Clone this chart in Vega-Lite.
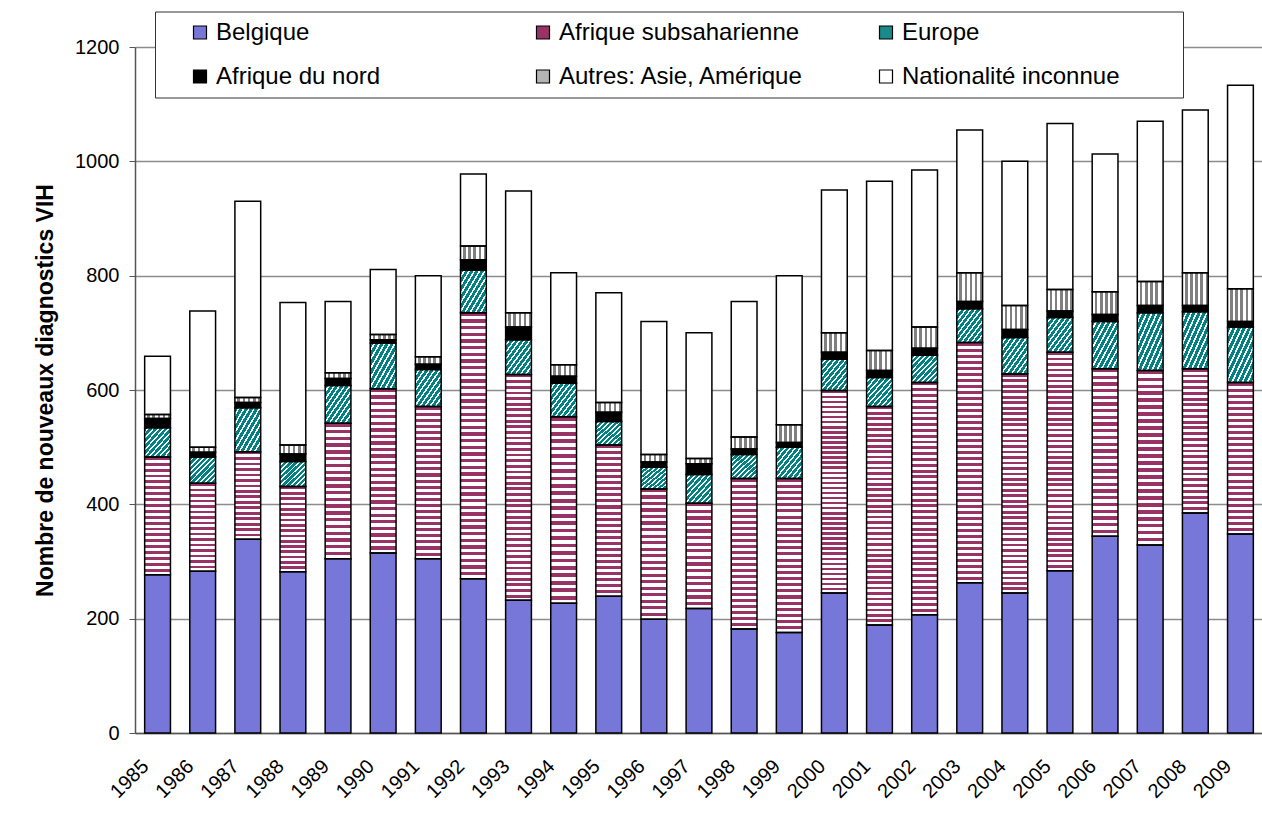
{
  "$schema": "https://vega.github.io/schema/vega-lite/v6.json",
  "autosize": "none",
  "width": 1128,
  "height": 686,
  "padding": {"left": 135, "top": 47, "right": 0, "bottom": 96},
  "background": "#ffffff",
  "config": {
    "view": {"stroke": null},
    "font": "Liberation Sans",
    "axis": {"labelFont": "Liberation Sans", "titleFont": "Liberation Sans", "labelColor": "#000", "titleColor": "#000"}
  },
  "data": {"values": [
    {"annee": "1985", "origine": "Belgique", "n": 277}, {"annee": "1985", "origine": "Afrique subsaharienne", "n": 206}, {"annee": "1985", "origine": "Europe", "n": 51}, {"annee": "1985", "origine": "Afrique du nord", "n": 16}, {"annee": "1985", "origine": "Autres: Asie, Amérique", "n": 7}, {"annee": "1985", "origine": "Nationalité inconnue", "n": 102},
    {"annee": "1986", "origine": "Belgique", "n": 283}, {"annee": "1986", "origine": "Afrique subsaharienne", "n": 154}, {"annee": "1986", "origine": "Europe", "n": 46}, {"annee": "1986", "origine": "Afrique du nord", "n": 8}, {"annee": "1986", "origine": "Autres: Asie, Amérique", "n": 9}, {"annee": "1986", "origine": "Nationalité inconnue", "n": 238},
    {"annee": "1987", "origine": "Belgique", "n": 339}, {"annee": "1987", "origine": "Afrique subsaharienne", "n": 153}, {"annee": "1987", "origine": "Europe", "n": 77}, {"annee": "1987", "origine": "Afrique du nord", "n": 9}, {"annee": "1987", "origine": "Autres: Asie, Amérique", "n": 9}, {"annee": "1987", "origine": "Nationalité inconnue", "n": 343},
    {"annee": "1988", "origine": "Belgique", "n": 282}, {"annee": "1988", "origine": "Afrique subsaharienne", "n": 149}, {"annee": "1988", "origine": "Europe", "n": 44}, {"annee": "1988", "origine": "Afrique du nord", "n": 13}, {"annee": "1988", "origine": "Autres: Asie, Amérique", "n": 16}, {"annee": "1988", "origine": "Nationalité inconnue", "n": 249},
    {"annee": "1989", "origine": "Belgique", "n": 305}, {"annee": "1989", "origine": "Afrique subsaharienne", "n": 237}, {"annee": "1989", "origine": "Europe", "n": 66}, {"annee": "1989", "origine": "Afrique du nord", "n": 12}, {"annee": "1989", "origine": "Autres: Asie, Amérique", "n": 10}, {"annee": "1989", "origine": "Nationalité inconnue", "n": 125},
    {"annee": "1990", "origine": "Belgique", "n": 315}, {"annee": "1990", "origine": "Afrique subsaharienne", "n": 287}, {"annee": "1990", "origine": "Europe", "n": 80}, {"annee": "1990", "origine": "Afrique du nord", "n": 6}, {"annee": "1990", "origine": "Autres: Asie, Amérique", "n": 9}, {"annee": "1990", "origine": "Nationalité inconnue", "n": 114},
    {"annee": "1991", "origine": "Belgique", "n": 305}, {"annee": "1991", "origine": "Afrique subsaharienne", "n": 266}, {"annee": "1991", "origine": "Europe", "n": 65}, {"annee": "1991", "origine": "Afrique du nord", "n": 9}, {"annee": "1991", "origine": "Autres: Asie, Amérique", "n": 13}, {"annee": "1991", "origine": "Nationalité inconnue", "n": 142},
    {"annee": "1992", "origine": "Belgique", "n": 270}, {"annee": "1992", "origine": "Afrique subsaharienne", "n": 465}, {"annee": "1992", "origine": "Europe", "n": 75}, {"annee": "1992", "origine": "Afrique du nord", "n": 18}, {"annee": "1992", "origine": "Autres: Asie, Amérique", "n": 24}, {"annee": "1992", "origine": "Nationalité inconnue", "n": 126},
    {"annee": "1993", "origine": "Belgique", "n": 232}, {"annee": "1993", "origine": "Afrique subsaharienne", "n": 395}, {"annee": "1993", "origine": "Europe", "n": 61}, {"annee": "1993", "origine": "Afrique du nord", "n": 22}, {"annee": "1993", "origine": "Autres: Asie, Amérique", "n": 25}, {"annee": "1993", "origine": "Nationalité inconnue", "n": 213},
    {"annee": "1994", "origine": "Belgique", "n": 227}, {"annee": "1994", "origine": "Afrique subsaharienne", "n": 326}, {"annee": "1994", "origine": "Europe", "n": 59}, {"annee": "1994", "origine": "Afrique du nord", "n": 12}, {"annee": "1994", "origine": "Autres: Asie, Amérique", "n": 20}, {"annee": "1994", "origine": "Nationalité inconnue", "n": 161},
    {"annee": "1995", "origine": "Belgique", "n": 239}, {"annee": "1995", "origine": "Afrique subsaharienne", "n": 265}, {"annee": "1995", "origine": "Europe", "n": 41}, {"annee": "1995", "origine": "Afrique du nord", "n": 16}, {"annee": "1995", "origine": "Autres: Asie, Amérique", "n": 17}, {"annee": "1995", "origine": "Nationalité inconnue", "n": 192},
    {"annee": "1996", "origine": "Belgique", "n": 199}, {"annee": "1996", "origine": "Afrique subsaharienne", "n": 228}, {"annee": "1996", "origine": "Europe", "n": 38}, {"annee": "1996", "origine": "Afrique du nord", "n": 9}, {"annee": "1996", "origine": "Autres: Asie, Amérique", "n": 13}, {"annee": "1996", "origine": "Nationalité inconnue", "n": 233},
    {"annee": "1997", "origine": "Belgique", "n": 218}, {"annee": "1997", "origine": "Afrique subsaharienne", "n": 184}, {"annee": "1997", "origine": "Europe", "n": 50}, {"annee": "1997", "origine": "Afrique du nord", "n": 19}, {"annee": "1997", "origine": "Autres: Asie, Amérique", "n": 9}, {"annee": "1997", "origine": "Nationalité inconnue", "n": 220},
    {"annee": "1998", "origine": "Belgique", "n": 182}, {"annee": "1998", "origine": "Afrique subsaharienne", "n": 263}, {"annee": "1998", "origine": "Europe", "n": 42}, {"annee": "1998", "origine": "Afrique du nord", "n": 10}, {"annee": "1998", "origine": "Autres: Asie, Amérique", "n": 21}, {"annee": "1998", "origine": "Nationalité inconnue", "n": 237},
    {"annee": "1999", "origine": "Belgique", "n": 176}, {"annee": "1999", "origine": "Afrique subsaharienne", "n": 269}, {"annee": "1999", "origine": "Europe", "n": 55}, {"annee": "1999", "origine": "Afrique du nord", "n": 8}, {"annee": "1999", "origine": "Autres: Asie, Amérique", "n": 31}, {"annee": "1999", "origine": "Nationalité inconnue", "n": 261},
    {"annee": "2000", "origine": "Belgique", "n": 245}, {"annee": "2000", "origine": "Afrique subsaharienne", "n": 354}, {"annee": "2000", "origine": "Europe", "n": 55}, {"annee": "2000", "origine": "Afrique du nord", "n": 12}, {"annee": "2000", "origine": "Autres: Asie, Amérique", "n": 34}, {"annee": "2000", "origine": "Nationalité inconnue", "n": 250},
    {"annee": "2001", "origine": "Belgique", "n": 189}, {"annee": "2001", "origine": "Afrique subsaharienne", "n": 382}, {"annee": "2001", "origine": "Europe", "n": 51}, {"annee": "2001", "origine": "Afrique du nord", "n": 12}, {"annee": "2001", "origine": "Autres: Asie, Amérique", "n": 35}, {"annee": "2001", "origine": "Nationalité inconnue", "n": 296},
    {"annee": "2002", "origine": "Belgique", "n": 207}, {"annee": "2002", "origine": "Afrique subsaharienne", "n": 406}, {"annee": "2002", "origine": "Europe", "n": 48}, {"annee": "2002", "origine": "Afrique du nord", "n": 12}, {"annee": "2002", "origine": "Autres: Asie, Amérique", "n": 37}, {"annee": "2002", "origine": "Nationalité inconnue", "n": 275},
    {"annee": "2003", "origine": "Belgique", "n": 263}, {"annee": "2003", "origine": "Afrique subsaharienne", "n": 420}, {"annee": "2003", "origine": "Europe", "n": 59}, {"annee": "2003", "origine": "Afrique du nord", "n": 13}, {"annee": "2003", "origine": "Autres: Asie, Amérique", "n": 50}, {"annee": "2003", "origine": "Nationalité inconnue", "n": 250},
    {"annee": "2004", "origine": "Belgique", "n": 245}, {"annee": "2004", "origine": "Afrique subsaharienne", "n": 383}, {"annee": "2004", "origine": "Europe", "n": 64}, {"annee": "2004", "origine": "Afrique du nord", "n": 14}, {"annee": "2004", "origine": "Autres: Asie, Amérique", "n": 42}, {"annee": "2004", "origine": "Nationalité inconnue", "n": 252},
    {"annee": "2005", "origine": "Belgique", "n": 284}, {"annee": "2005", "origine": "Afrique subsaharienne", "n": 382}, {"annee": "2005", "origine": "Europe", "n": 61}, {"annee": "2005", "origine": "Afrique du nord", "n": 11}, {"annee": "2005", "origine": "Autres: Asie, Amérique", "n": 38}, {"annee": "2005", "origine": "Nationalité inconnue", "n": 290},
    {"annee": "2006", "origine": "Belgique", "n": 344}, {"annee": "2006", "origine": "Afrique subsaharienne", "n": 293}, {"annee": "2006", "origine": "Europe", "n": 83}, {"annee": "2006", "origine": "Afrique du nord", "n": 12}, {"annee": "2006", "origine": "Autres: Asie, Amérique", "n": 40}, {"annee": "2006", "origine": "Nationalité inconnue", "n": 241},
    {"annee": "2007", "origine": "Belgique", "n": 329}, {"annee": "2007", "origine": "Afrique subsaharienne", "n": 305}, {"annee": "2007", "origine": "Europe", "n": 101}, {"annee": "2007", "origine": "Afrique du nord", "n": 13}, {"annee": "2007", "origine": "Autres: Asie, Amérique", "n": 42}, {"annee": "2007", "origine": "Nationalité inconnue", "n": 280},
    {"annee": "2008", "origine": "Belgique", "n": 385}, {"annee": "2008", "origine": "Afrique subsaharienne", "n": 252}, {"annee": "2008", "origine": "Europe", "n": 100}, {"annee": "2008", "origine": "Afrique du nord", "n": 11}, {"annee": "2008", "origine": "Autres: Asie, Amérique", "n": 57}, {"annee": "2008", "origine": "Nationalité inconnue", "n": 285},
    {"annee": "2009", "origine": "Belgique", "n": 348}, {"annee": "2009", "origine": "Afrique subsaharienne", "n": 265}, {"annee": "2009", "origine": "Europe", "n": 97}, {"annee": "2009", "origine": "Afrique du nord", "n": 10}, {"annee": "2009", "origine": "Autres: Asie, Amérique", "n": 57}, {"annee": "2009", "origine": "Nationalité inconnue", "n": 356}
  ]},
  "transform": [
    {"calculate": "indexof(['Belgique', 'Afrique subsaharienne', 'Europe', 'Afrique du nord', 'Autres: Asie, Amérique', 'Nationalité inconnue'], datum.origine)", "as": "rang"}
  ],
  "encoding": {
    "x": {
      "field": "annee", "type": "ordinal",
      "scale": {"paddingInner": 0.4286, "paddingOuter": 0.2143},
      "axis": {
        "title": null, "labelAngle": -45, "labelAlign": "right", "labelBaseline": "middle",
        "labelFontSize": 20, "labelPadding": 30, "labelOffset": -12,
        "ticks": false, "tickSize": 0, "grid": false,
        "domainColor": "#555555", "domainWidth": 1.5
      }
    },
    "y": {
      "field": "n", "type": "quantitative", "stack": "zero",
      "scale": {"domain": [0, 1200], "nice": false},
      "axis": {
        "title": "Nombre de nouveaux diagnostics VIH", "titleFontSize": 23, "titleFontWeight": "bold", "titlePadding": 17,
        "values": [0, 200, 400, 600, 800, 1000, 1200], "format": "d",
        "labelFontSize": 20, "labelPadding": 10, "tickSize": 6, "tickColor": "#555555",
        "domainColor": "#555555", "domainWidth": 1.5,
        "grid": true, "gridColor": "#8c8c8c", "gridWidth": 1.5
      }
    },
    "detail": {"field": "origine", "type": "nominal"},
    "order": {"field": "rang", "type": "quantitative"}
  },
  "layer": [
    {
      "mark": {"type": "bar", "strokeWidth": 0},
      "encoding": {
        "color": {
          "field": "origine", "type": "nominal",
          "sort": ["Belgique", "Afrique subsaharienne", "Europe", "Afrique du nord", "Autres: Asie, Amérique", "Nationalité inconnue"],
          "scale": {
            "domain": ["Belgique", "Afrique subsaharienne", "Europe", "Afrique du nord", "Autres: Asie, Amérique", "Nationalité inconnue"],
            "range": ["#7777d9", "#993366", "#1a8a8a", "#000000", "#b4b4b4", "#ffffff"]
          },
          "legend": {
            "title": " ", "titleOrient": "right", "titlePadding": 55, "titleFontSize": 4,
            "orient": "none", "legendX": 20, "legendY": -35.5,
            "direction": "horizontal", "columns": 3, "gridAlign": "all",
            "padding": 9, "symbolOffset": 24, "labelOffset": 4, "columnPadding": 45, "rowPadding": 20,
            "strokeColor": "#333333", "fillColor": "#ffffff",
            "symbolType": "square", "symbolSize": 169, "symbolStrokeColor": "#000000", "symbolStrokeWidth": 1.2,
            "labelFont": "Liberation Sans", "labelFontSize": 24, "labelColor": "#000000", "labelLimit": 400
          }
        }
      }
    },
    {
      "mark": {"type": "bar", "strokeWidth": 0, "fill": {"gradient": "linear", "x1": 0, "y1": 0, "x2": 0, "y2": 1, "stops": [
        {"offset": 0, "color": "#936"}, {"offset": 0.03125, "color": "#936"}, {"offset": 0.03125, "color": "#fff"}, {"offset": 0.0625, "color": "#fff"},
        {"offset": 0.0625, "color": "#936"}, {"offset": 0.09375, "color": "#936"}, {"offset": 0.09375, "color": "#fff"}, {"offset": 0.125, "color": "#fff"},
        {"offset": 0.125, "color": "#936"}, {"offset": 0.15625, "color": "#936"}, {"offset": 0.15625, "color": "#fff"}, {"offset": 0.1875, "color": "#fff"},
        {"offset": 0.1875, "color": "#936"}, {"offset": 0.21875, "color": "#936"}, {"offset": 0.21875, "color": "#fff"}, {"offset": 0.25, "color": "#fff"},
        {"offset": 0.25, "color": "#936"}, {"offset": 0.28125, "color": "#936"}, {"offset": 0.28125, "color": "#fff"}, {"offset": 0.3125, "color": "#fff"},
        {"offset": 0.3125, "color": "#936"}, {"offset": 0.34375, "color": "#936"}, {"offset": 0.34375, "color": "#fff"}, {"offset": 0.375, "color": "#fff"},
        {"offset": 0.375, "color": "#936"}, {"offset": 0.40625, "color": "#936"}, {"offset": 0.40625, "color": "#fff"}, {"offset": 0.4375, "color": "#fff"},
        {"offset": 0.4375, "color": "#936"}, {"offset": 0.46875, "color": "#936"}, {"offset": 0.46875, "color": "#fff"}, {"offset": 0.5, "color": "#fff"},
        {"offset": 0.5, "color": "#936"}, {"offset": 0.53125, "color": "#936"}, {"offset": 0.53125, "color": "#fff"}, {"offset": 0.5625, "color": "#fff"},
        {"offset": 0.5625, "color": "#936"}, {"offset": 0.59375, "color": "#936"}, {"offset": 0.59375, "color": "#fff"}, {"offset": 0.625, "color": "#fff"},
        {"offset": 0.625, "color": "#936"}, {"offset": 0.65625, "color": "#936"}, {"offset": 0.65625, "color": "#fff"}, {"offset": 0.6875, "color": "#fff"},
        {"offset": 0.6875, "color": "#936"}, {"offset": 0.71875, "color": "#936"}, {"offset": 0.71875, "color": "#fff"}, {"offset": 0.75, "color": "#fff"},
        {"offset": 0.75, "color": "#936"}, {"offset": 0.78125, "color": "#936"}, {"offset": 0.78125, "color": "#fff"}, {"offset": 0.8125, "color": "#fff"},
        {"offset": 0.8125, "color": "#936"}, {"offset": 0.84375, "color": "#936"}, {"offset": 0.84375, "color": "#fff"}, {"offset": 0.875, "color": "#fff"},
        {"offset": 0.875, "color": "#936"}, {"offset": 0.90625, "color": "#936"}, {"offset": 0.90625, "color": "#fff"}, {"offset": 0.9375, "color": "#fff"},
        {"offset": 0.9375, "color": "#936"}, {"offset": 0.96875, "color": "#936"}, {"offset": 0.96875, "color": "#fff"}, {"offset": 1, "color": "#fff"}
      ]}},
      "encoding": {"fillOpacity": {"condition": {"test": "datum.origine === 'Afrique subsaharienne' && datum.n < 195", "value": 1}, "value": 0}}
    },
    {
      "mark": {"type": "bar", "strokeWidth": 0, "fill": {"gradient": "linear", "x1": 0, "y1": 0, "x2": 0, "y2": 1, "stops": [
        {"offset": 0, "color": "#936"}, {"offset": 0.025, "color": "#936"}, {"offset": 0.025, "color": "#fff"}, {"offset": 0.05, "color": "#fff"},
        {"offset": 0.05, "color": "#936"}, {"offset": 0.075, "color": "#936"}, {"offset": 0.075, "color": "#fff"}, {"offset": 0.1, "color": "#fff"},
        {"offset": 0.1, "color": "#936"}, {"offset": 0.125, "color": "#936"}, {"offset": 0.125, "color": "#fff"}, {"offset": 0.15, "color": "#fff"},
        {"offset": 0.15, "color": "#936"}, {"offset": 0.175, "color": "#936"}, {"offset": 0.175, "color": "#fff"}, {"offset": 0.2, "color": "#fff"},
        {"offset": 0.2, "color": "#936"}, {"offset": 0.225, "color": "#936"}, {"offset": 0.225, "color": "#fff"}, {"offset": 0.25, "color": "#fff"},
        {"offset": 0.25, "color": "#936"}, {"offset": 0.275, "color": "#936"}, {"offset": 0.275, "color": "#fff"}, {"offset": 0.3, "color": "#fff"},
        {"offset": 0.3, "color": "#936"}, {"offset": 0.325, "color": "#936"}, {"offset": 0.325, "color": "#fff"}, {"offset": 0.35, "color": "#fff"},
        {"offset": 0.35, "color": "#936"}, {"offset": 0.375, "color": "#936"}, {"offset": 0.375, "color": "#fff"}, {"offset": 0.4, "color": "#fff"},
        {"offset": 0.4, "color": "#936"}, {"offset": 0.425, "color": "#936"}, {"offset": 0.425, "color": "#fff"}, {"offset": 0.45, "color": "#fff"},
        {"offset": 0.45, "color": "#936"}, {"offset": 0.475, "color": "#936"}, {"offset": 0.475, "color": "#fff"}, {"offset": 0.5, "color": "#fff"},
        {"offset": 0.5, "color": "#936"}, {"offset": 0.525, "color": "#936"}, {"offset": 0.525, "color": "#fff"}, {"offset": 0.55, "color": "#fff"},
        {"offset": 0.55, "color": "#936"}, {"offset": 0.575, "color": "#936"}, {"offset": 0.575, "color": "#fff"}, {"offset": 0.6, "color": "#fff"},
        {"offset": 0.6, "color": "#936"}, {"offset": 0.625, "color": "#936"}, {"offset": 0.625, "color": "#fff"}, {"offset": 0.65, "color": "#fff"},
        {"offset": 0.65, "color": "#936"}, {"offset": 0.675, "color": "#936"}, {"offset": 0.675, "color": "#fff"}, {"offset": 0.7, "color": "#fff"},
        {"offset": 0.7, "color": "#936"}, {"offset": 0.725, "color": "#936"}, {"offset": 0.725, "color": "#fff"}, {"offset": 0.75, "color": "#fff"},
        {"offset": 0.75, "color": "#936"}, {"offset": 0.775, "color": "#936"}, {"offset": 0.775, "color": "#fff"}, {"offset": 0.8, "color": "#fff"},
        {"offset": 0.8, "color": "#936"}, {"offset": 0.825, "color": "#936"}, {"offset": 0.825, "color": "#fff"}, {"offset": 0.85, "color": "#fff"},
        {"offset": 0.85, "color": "#936"}, {"offset": 0.875, "color": "#936"}, {"offset": 0.875, "color": "#fff"}, {"offset": 0.9, "color": "#fff"},
        {"offset": 0.9, "color": "#936"}, {"offset": 0.925, "color": "#936"}, {"offset": 0.925, "color": "#fff"}, {"offset": 0.95, "color": "#fff"},
        {"offset": 0.95, "color": "#936"}, {"offset": 0.975, "color": "#936"}, {"offset": 0.975, "color": "#fff"}, {"offset": 1, "color": "#fff"}
      ]}},
      "encoding": {"fillOpacity": {"condition": {"test": "datum.origine === 'Afrique subsaharienne' && datum.n >= 195 && datum.n < 245", "value": 1}, "value": 0}}
    },
    {
      "mark": {"type": "bar", "strokeWidth": 0, "fill": {"gradient": "linear", "x1": 0, "y1": 0, "x2": 0, "y2": 1, "stops": [
        {"offset": 0, "color": "#936"}, {"offset": 0.02, "color": "#936"}, {"offset": 0.02, "color": "#fff"}, {"offset": 0.04, "color": "#fff"},
        {"offset": 0.04, "color": "#936"}, {"offset": 0.06, "color": "#936"}, {"offset": 0.06, "color": "#fff"}, {"offset": 0.08, "color": "#fff"},
        {"offset": 0.08, "color": "#936"}, {"offset": 0.1, "color": "#936"}, {"offset": 0.1, "color": "#fff"}, {"offset": 0.12, "color": "#fff"},
        {"offset": 0.12, "color": "#936"}, {"offset": 0.14, "color": "#936"}, {"offset": 0.14, "color": "#fff"}, {"offset": 0.16, "color": "#fff"},
        {"offset": 0.16, "color": "#936"}, {"offset": 0.18, "color": "#936"}, {"offset": 0.18, "color": "#fff"}, {"offset": 0.2, "color": "#fff"},
        {"offset": 0.2, "color": "#936"}, {"offset": 0.22, "color": "#936"}, {"offset": 0.22, "color": "#fff"}, {"offset": 0.24, "color": "#fff"},
        {"offset": 0.24, "color": "#936"}, {"offset": 0.26, "color": "#936"}, {"offset": 0.26, "color": "#fff"}, {"offset": 0.28, "color": "#fff"},
        {"offset": 0.28, "color": "#936"}, {"offset": 0.3, "color": "#936"}, {"offset": 0.3, "color": "#fff"}, {"offset": 0.32, "color": "#fff"},
        {"offset": 0.32, "color": "#936"}, {"offset": 0.34, "color": "#936"}, {"offset": 0.34, "color": "#fff"}, {"offset": 0.36, "color": "#fff"},
        {"offset": 0.36, "color": "#936"}, {"offset": 0.38, "color": "#936"}, {"offset": 0.38, "color": "#fff"}, {"offset": 0.4, "color": "#fff"},
        {"offset": 0.4, "color": "#936"}, {"offset": 0.42, "color": "#936"}, {"offset": 0.42, "color": "#fff"}, {"offset": 0.44, "color": "#fff"},
        {"offset": 0.44, "color": "#936"}, {"offset": 0.46, "color": "#936"}, {"offset": 0.46, "color": "#fff"}, {"offset": 0.48, "color": "#fff"},
        {"offset": 0.48, "color": "#936"}, {"offset": 0.5, "color": "#936"}, {"offset": 0.5, "color": "#fff"}, {"offset": 0.52, "color": "#fff"},
        {"offset": 0.52, "color": "#936"}, {"offset": 0.54, "color": "#936"}, {"offset": 0.54, "color": "#fff"}, {"offset": 0.56, "color": "#fff"},
        {"offset": 0.56, "color": "#936"}, {"offset": 0.58, "color": "#936"}, {"offset": 0.58, "color": "#fff"}, {"offset": 0.6, "color": "#fff"},
        {"offset": 0.6, "color": "#936"}, {"offset": 0.62, "color": "#936"}, {"offset": 0.62, "color": "#fff"}, {"offset": 0.64, "color": "#fff"},
        {"offset": 0.64, "color": "#936"}, {"offset": 0.66, "color": "#936"}, {"offset": 0.66, "color": "#fff"}, {"offset": 0.68, "color": "#fff"},
        {"offset": 0.68, "color": "#936"}, {"offset": 0.7, "color": "#936"}, {"offset": 0.7, "color": "#fff"}, {"offset": 0.72, "color": "#fff"},
        {"offset": 0.72, "color": "#936"}, {"offset": 0.74, "color": "#936"}, {"offset": 0.74, "color": "#fff"}, {"offset": 0.76, "color": "#fff"},
        {"offset": 0.76, "color": "#936"}, {"offset": 0.78, "color": "#936"}, {"offset": 0.78, "color": "#fff"}, {"offset": 0.8, "color": "#fff"},
        {"offset": 0.8, "color": "#936"}, {"offset": 0.82, "color": "#936"}, {"offset": 0.82, "color": "#fff"}, {"offset": 0.84, "color": "#fff"},
        {"offset": 0.84, "color": "#936"}, {"offset": 0.86, "color": "#936"}, {"offset": 0.86, "color": "#fff"}, {"offset": 0.88, "color": "#fff"},
        {"offset": 0.88, "color": "#936"}, {"offset": 0.9, "color": "#936"}, {"offset": 0.9, "color": "#fff"}, {"offset": 0.92, "color": "#fff"},
        {"offset": 0.92, "color": "#936"}, {"offset": 0.94, "color": "#936"}, {"offset": 0.94, "color": "#fff"}, {"offset": 0.96, "color": "#fff"},
        {"offset": 0.96, "color": "#936"}, {"offset": 0.98, "color": "#936"}, {"offset": 0.98, "color": "#fff"}, {"offset": 1, "color": "#fff"}
      ]}},
      "encoding": {"fillOpacity": {"condition": {"test": "datum.origine === 'Afrique subsaharienne' && datum.n >= 245 && datum.n < 330", "value": 1}, "value": 0}}
    },
    {
      "mark": {"type": "bar", "strokeWidth": 0, "fill": {"gradient": "linear", "x1": 0, "y1": 0, "x2": 0, "y2": 1, "stops": [
        {"offset": 0, "color": "#936"}, {"offset": 0.0125, "color": "#936"}, {"offset": 0.0125, "color": "#fff"}, {"offset": 0.025, "color": "#fff"},
        {"offset": 0.025, "color": "#936"}, {"offset": 0.0375, "color": "#936"}, {"offset": 0.0375, "color": "#fff"}, {"offset": 0.05, "color": "#fff"},
        {"offset": 0.05, "color": "#936"}, {"offset": 0.0625, "color": "#936"}, {"offset": 0.0625, "color": "#fff"}, {"offset": 0.075, "color": "#fff"},
        {"offset": 0.075, "color": "#936"}, {"offset": 0.0875, "color": "#936"}, {"offset": 0.0875, "color": "#fff"}, {"offset": 0.1, "color": "#fff"},
        {"offset": 0.1, "color": "#936"}, {"offset": 0.1125, "color": "#936"}, {"offset": 0.1125, "color": "#fff"}, {"offset": 0.125, "color": "#fff"},
        {"offset": 0.125, "color": "#936"}, {"offset": 0.1375, "color": "#936"}, {"offset": 0.1375, "color": "#fff"}, {"offset": 0.15, "color": "#fff"},
        {"offset": 0.15, "color": "#936"}, {"offset": 0.1625, "color": "#936"}, {"offset": 0.1625, "color": "#fff"}, {"offset": 0.175, "color": "#fff"},
        {"offset": 0.175, "color": "#936"}, {"offset": 0.1875, "color": "#936"}, {"offset": 0.1875, "color": "#fff"}, {"offset": 0.2, "color": "#fff"},
        {"offset": 0.2, "color": "#936"}, {"offset": 0.2125, "color": "#936"}, {"offset": 0.2125, "color": "#fff"}, {"offset": 0.225, "color": "#fff"},
        {"offset": 0.225, "color": "#936"}, {"offset": 0.2375, "color": "#936"}, {"offset": 0.2375, "color": "#fff"}, {"offset": 0.25, "color": "#fff"},
        {"offset": 0.25, "color": "#936"}, {"offset": 0.2625, "color": "#936"}, {"offset": 0.2625, "color": "#fff"}, {"offset": 0.275, "color": "#fff"},
        {"offset": 0.275, "color": "#936"}, {"offset": 0.2875, "color": "#936"}, {"offset": 0.2875, "color": "#fff"}, {"offset": 0.3, "color": "#fff"},
        {"offset": 0.3, "color": "#936"}, {"offset": 0.3125, "color": "#936"}, {"offset": 0.3125, "color": "#fff"}, {"offset": 0.325, "color": "#fff"},
        {"offset": 0.325, "color": "#936"}, {"offset": 0.3375, "color": "#936"}, {"offset": 0.3375, "color": "#fff"}, {"offset": 0.35, "color": "#fff"},
        {"offset": 0.35, "color": "#936"}, {"offset": 0.3625, "color": "#936"}, {"offset": 0.3625, "color": "#fff"}, {"offset": 0.375, "color": "#fff"},
        {"offset": 0.375, "color": "#936"}, {"offset": 0.3875, "color": "#936"}, {"offset": 0.3875, "color": "#fff"}, {"offset": 0.4, "color": "#fff"},
        {"offset": 0.4, "color": "#936"}, {"offset": 0.4125, "color": "#936"}, {"offset": 0.4125, "color": "#fff"}, {"offset": 0.425, "color": "#fff"},
        {"offset": 0.425, "color": "#936"}, {"offset": 0.4375, "color": "#936"}, {"offset": 0.4375, "color": "#fff"}, {"offset": 0.45, "color": "#fff"},
        {"offset": 0.45, "color": "#936"}, {"offset": 0.4625, "color": "#936"}, {"offset": 0.4625, "color": "#fff"}, {"offset": 0.475, "color": "#fff"},
        {"offset": 0.475, "color": "#936"}, {"offset": 0.4875, "color": "#936"}, {"offset": 0.4875, "color": "#fff"}, {"offset": 0.5, "color": "#fff"},
        {"offset": 0.5, "color": "#936"}, {"offset": 0.5125, "color": "#936"}, {"offset": 0.5125, "color": "#fff"}, {"offset": 0.525, "color": "#fff"},
        {"offset": 0.525, "color": "#936"}, {"offset": 0.5375, "color": "#936"}, {"offset": 0.5375, "color": "#fff"}, {"offset": 0.55, "color": "#fff"},
        {"offset": 0.55, "color": "#936"}, {"offset": 0.5625, "color": "#936"}, {"offset": 0.5625, "color": "#fff"}, {"offset": 0.575, "color": "#fff"},
        {"offset": 0.575, "color": "#936"}, {"offset": 0.5875, "color": "#936"}, {"offset": 0.5875, "color": "#fff"}, {"offset": 0.6, "color": "#fff"},
        {"offset": 0.6, "color": "#936"}, {"offset": 0.6125, "color": "#936"}, {"offset": 0.6125, "color": "#fff"}, {"offset": 0.625, "color": "#fff"},
        {"offset": 0.625, "color": "#936"}, {"offset": 0.6375, "color": "#936"}, {"offset": 0.6375, "color": "#fff"}, {"offset": 0.65, "color": "#fff"},
        {"offset": 0.65, "color": "#936"}, {"offset": 0.6625, "color": "#936"}, {"offset": 0.6625, "color": "#fff"}, {"offset": 0.675, "color": "#fff"},
        {"offset": 0.675, "color": "#936"}, {"offset": 0.6875, "color": "#936"}, {"offset": 0.6875, "color": "#fff"}, {"offset": 0.7, "color": "#fff"},
        {"offset": 0.7, "color": "#936"}, {"offset": 0.7125, "color": "#936"}, {"offset": 0.7125, "color": "#fff"}, {"offset": 0.725, "color": "#fff"},
        {"offset": 0.725, "color": "#936"}, {"offset": 0.7375, "color": "#936"}, {"offset": 0.7375, "color": "#fff"}, {"offset": 0.75, "color": "#fff"},
        {"offset": 0.75, "color": "#936"}, {"offset": 0.7625, "color": "#936"}, {"offset": 0.7625, "color": "#fff"}, {"offset": 0.775, "color": "#fff"},
        {"offset": 0.775, "color": "#936"}, {"offset": 0.7875, "color": "#936"}, {"offset": 0.7875, "color": "#fff"}, {"offset": 0.8, "color": "#fff"},
        {"offset": 0.8, "color": "#936"}, {"offset": 0.8125, "color": "#936"}, {"offset": 0.8125, "color": "#fff"}, {"offset": 0.825, "color": "#fff"},
        {"offset": 0.825, "color": "#936"}, {"offset": 0.8375, "color": "#936"}, {"offset": 0.8375, "color": "#fff"}, {"offset": 0.85, "color": "#fff"},
        {"offset": 0.85, "color": "#936"}, {"offset": 0.8625, "color": "#936"}, {"offset": 0.8625, "color": "#fff"}, {"offset": 0.875, "color": "#fff"},
        {"offset": 0.875, "color": "#936"}, {"offset": 0.8875, "color": "#936"}, {"offset": 0.8875, "color": "#fff"}, {"offset": 0.9, "color": "#fff"},
        {"offset": 0.9, "color": "#936"}, {"offset": 0.9125, "color": "#936"}, {"offset": 0.9125, "color": "#fff"}, {"offset": 0.925, "color": "#fff"},
        {"offset": 0.925, "color": "#936"}, {"offset": 0.9375, "color": "#936"}, {"offset": 0.9375, "color": "#fff"}, {"offset": 0.95, "color": "#fff"},
        {"offset": 0.95, "color": "#936"}, {"offset": 0.9625, "color": "#936"}, {"offset": 0.9625, "color": "#fff"}, {"offset": 0.975, "color": "#fff"},
        {"offset": 0.975, "color": "#936"}, {"offset": 0.9875, "color": "#936"}, {"offset": 0.9875, "color": "#fff"}, {"offset": 1, "color": "#fff"}
      ]}},
      "encoding": {"fillOpacity": {"condition": {"test": "datum.origine === 'Afrique subsaharienne' && datum.n >= 330", "value": 1}, "value": 0}}
    },
    {
      "mark": {"type": "bar", "strokeWidth": 0, "fill": {"gradient": "linear", "x1": 0, "y1": 0, "x2": 1, "y2": 1, "stops": [
        {"offset": 0, "color": "#008080"}, {"offset": 0.065, "color": "#008080"}, {"offset": 0.065, "color": "#fff"}, {"offset": 0.1, "color": "#fff"},
        {"offset": 0.1, "color": "#008080"}, {"offset": 0.165, "color": "#008080"}, {"offset": 0.165, "color": "#fff"}, {"offset": 0.2, "color": "#fff"},
        {"offset": 0.2, "color": "#008080"}, {"offset": 0.265, "color": "#008080"}, {"offset": 0.265, "color": "#fff"}, {"offset": 0.3, "color": "#fff"},
        {"offset": 0.3, "color": "#008080"}, {"offset": 0.365, "color": "#008080"}, {"offset": 0.365, "color": "#fff"}, {"offset": 0.4, "color": "#fff"},
        {"offset": 0.4, "color": "#008080"}, {"offset": 0.465, "color": "#008080"}, {"offset": 0.465, "color": "#fff"}, {"offset": 0.5, "color": "#fff"},
        {"offset": 0.5, "color": "#008080"}, {"offset": 0.565, "color": "#008080"}, {"offset": 0.565, "color": "#fff"}, {"offset": 0.6, "color": "#fff"},
        {"offset": 0.6, "color": "#008080"}, {"offset": 0.665, "color": "#008080"}, {"offset": 0.665, "color": "#fff"}, {"offset": 0.7, "color": "#fff"},
        {"offset": 0.7, "color": "#008080"}, {"offset": 0.765, "color": "#008080"}, {"offset": 0.765, "color": "#fff"}, {"offset": 0.8, "color": "#fff"},
        {"offset": 0.8, "color": "#008080"}, {"offset": 0.865, "color": "#008080"}, {"offset": 0.865, "color": "#fff"}, {"offset": 0.9, "color": "#fff"},
        {"offset": 0.9, "color": "#008080"}, {"offset": 0.965, "color": "#008080"}, {"offset": 0.965, "color": "#fff"}, {"offset": 1, "color": "#fff"}
      ]}},
      "encoding": {"fillOpacity": {"condition": {"test": "datum.origine === 'Europe'", "value": 1}, "value": 0}}
    },
    {
      "mark": {"type": "bar", "strokeWidth": 0, "fill": {"gradient": "linear", "x1": 0, "y1": 0, "x2": 1, "y2": 0, "stops": [
        {"offset": 0, "color": "#fff"}, {"offset": 0.1, "color": "#fff"}, {"offset": 0.1, "color": "#808080"}, {"offset": 0.2, "color": "#808080"},
        {"offset": 0.2, "color": "#fff"}, {"offset": 0.3, "color": "#fff"}, {"offset": 0.3, "color": "#808080"}, {"offset": 0.4, "color": "#808080"},
        {"offset": 0.4, "color": "#fff"}, {"offset": 0.5, "color": "#fff"}, {"offset": 0.5, "color": "#808080"}, {"offset": 0.6, "color": "#808080"},
        {"offset": 0.6, "color": "#fff"}, {"offset": 0.7, "color": "#fff"}, {"offset": 0.7, "color": "#808080"}, {"offset": 0.8, "color": "#808080"},
        {"offset": 0.8, "color": "#fff"}, {"offset": 0.9, "color": "#fff"}, {"offset": 0.9, "color": "#808080"}, {"offset": 1, "color": "#808080"}
      ]}},
      "encoding": {"fillOpacity": {"condition": {"test": "datum.origine === 'Autres: Asie, Amérique'", "value": 1}, "value": 0}}
    },
    {
      "mark": {"type": "bar", "fill": "#ffffff", "fillOpacity": 0, "stroke": "#000000", "strokeWidth": 1.5}
    }
  ]
}
